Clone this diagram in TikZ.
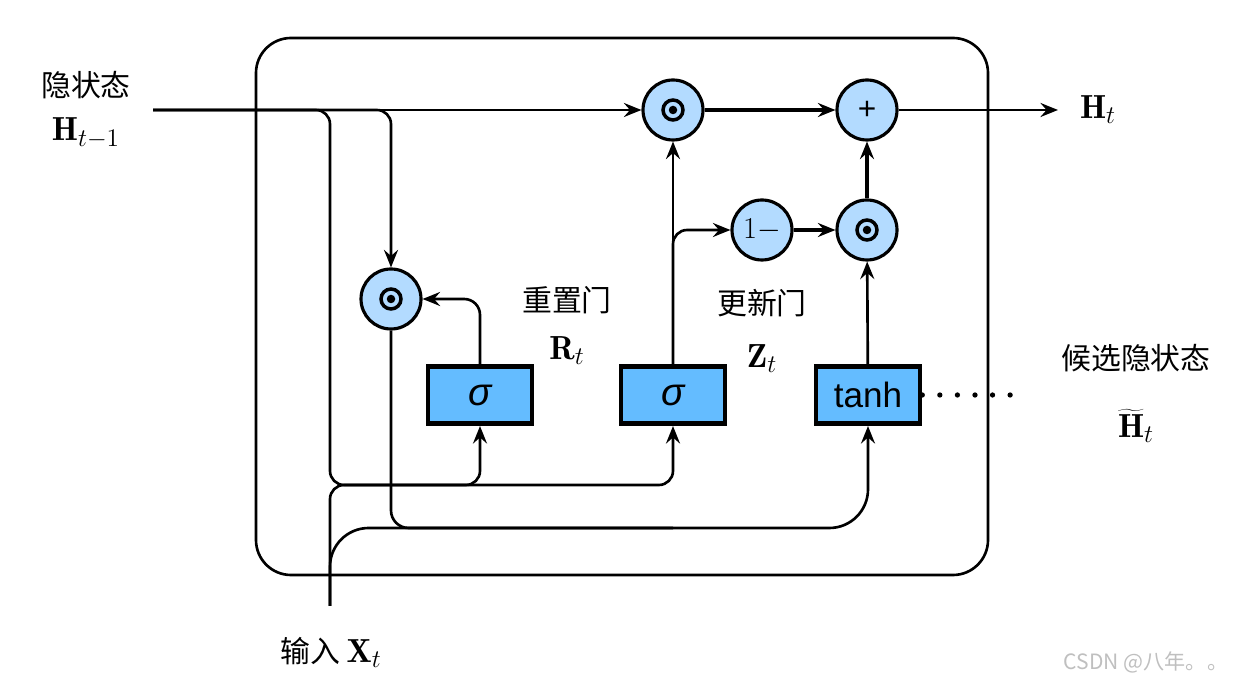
\documentclass[tikz,border=0pt]{standalone}
\usepackage{fontspec}
\setsansfont{Liberation Sans}
\newfontfamily\cjk{Noto Sans CJK SC}
\usetikzlibrary{positioning,arrows.meta}
\definecolor{OpBlue}{RGB}{179,219,255}
\definecolor{GateBlue}{RGB}{100,188,255}

\begin{document}
\begin{tikzpicture}[x=.02cm,y=-.02cm,
                    >={Stealth[length=10pt,width=8pt,inset=3.5pt]},
                    wire/.style={line width=1.5pt},
                    thickwire/.style={line width=2.8pt},
                    basenode/.style={draw,line width=1.8pt,inner sep=0pt},
                    op/.style={basenode,circle,minimum size=1.2cm,fill=OpBlue},
                    mul/.style={op,path picture={\draw[black,line width=2pt] (path picture bounding box.center) circle[radius=.2cm];
                                                \fill[black] (path picture bounding box.center) circle[radius=.085cm];}},
                    gate/.style={basenode,rectangle,line width=2.6pt,minimum width=2.08cm,minimum height=1.15cm,fill=GateBlue,font={\sffamily\fontsize{20}{22}\selectfont}},
                    cjktext/.style={font={\cjk\fontsize{17}{20}\selectfont}},
                    vartext/.style={font={\fontsize{19}{22}\selectfont}}]
  \useasboundingbox (0,0) rectangle (1252,685);
  \draw[line width=1.5pt,rounded corners=.7cm] (256,38) rectangle (988,575);
  % operators
  \node[mul] (hid-mul) at (673,110) {};
  \node[op,font={\sffamily\fontsize{18}{20}\selectfont}] (plus) at (867,110) {+};
  \node[op,font={\fontsize{18}{20}\selectfont}] (one-minus) at (762,230) {$1-$};
  \node[mul] (upd-mul) at (867,230) {};
  \node[mul] (reset-mul) at (391,299) {};
  % gates
  \node[gate] (sig-r) at (480,395) {{\itshape\fontsize{22}{24}\selectfont σ}};
  \node[gate] (sig-z) at (673,395) {{\itshape\fontsize{22}{24}\selectfont σ}};
  \node[gate] (tanh) at (868,395) {tanh};
  % wire ends and bends
  \node[coordinate] (h-in) at (153,110) {};
  \node[coordinate] (h-out) at (1058,110) {};
  \node[coordinate] (x-in) at (330,606) {};
  \node[coordinate] (h-down) at (330,485) {};
  \node[coordinate] (c-down) at (330,528) {};
  \node[coordinate] (dots-end) at (1018,395) {};
  % labels
  \node[cjktext] (h-prev-text) at (86,85) {隐状态};
  \node[vartext] (h-prev) at (86,133) {$\mathbf{H}_{t-1}$};
  \node[vartext] (h-next) at (1098,110) {$\mathbf{H}_t$};
  \node[cjktext] (r-text) at (567,300) {重置门};
  \node[vartext] (r-var) [below=.2cm of r-text] {$\mathbf{R}_t$};
  \node[cjktext] (z-text) at (762,303) {更新门};
  \node[vartext] (z-var) [below=.3cm of z-text] {$\mathbf{Z}_t$};
  \node[cjktext] (cand-text) at (1136,358) {候选隐状态};
  \node[vartext] (cand-var) [below=.5cm of cand-text] {$\widetilde{\mathbf{H}}_t$};
  \node[cjktext] (x-text) at (331,652) {输入\ {\fontsize{19}{22}\selectfont$\mathbf{X}_t$}};
  \node[font={\cjk\fontsize{12}{14}\selectfont},text=black!25] (mark) at (1146,662) {CSDN @八年。。};
  % wires
  \draw[wire,->] (h-in) -- (hid-mul);
  \draw[wire,->,rounded corners=8pt] (h-in) -| (reset-mul);
  \draw[wire,->,rounded corners=8pt] (h-in) -| (h-down) -| (sig-r);
  \draw[wire,->,rounded corners=8pt] (x-in) -- (h-down) -| (sig-z);
  \draw[wire,->,rounded corners=22pt] (x-in) -- (c-down) -| (tanh);
  \draw[wire,rounded corners=10pt] (reset-mul) |- (sig-z |- c-down);
  \draw[wire,->,rounded corners=9pt] (sig-r) |- (reset-mul);
  \draw[wire,->] (sig-z) -- (hid-mul);
  \draw[wire,->,rounded corners=8pt] (sig-z) |- (one-minus);
  \draw[thickwire,->] (hid-mul) -- (plus);
  \draw[thickwire,->] (one-minus) -- (upd-mul);
  \draw[thickwire,->] (upd-mul) -- (plus);
  \draw[wire,->] (tanh) -- (upd-mul);
  \draw[wire,->] (plus) -- (h-out);
  \draw[line width=3pt,line cap=round,dash pattern=on 0pt off 10pt] (tanh) -- (dots-end);
\end{tikzpicture}
\end{document}
